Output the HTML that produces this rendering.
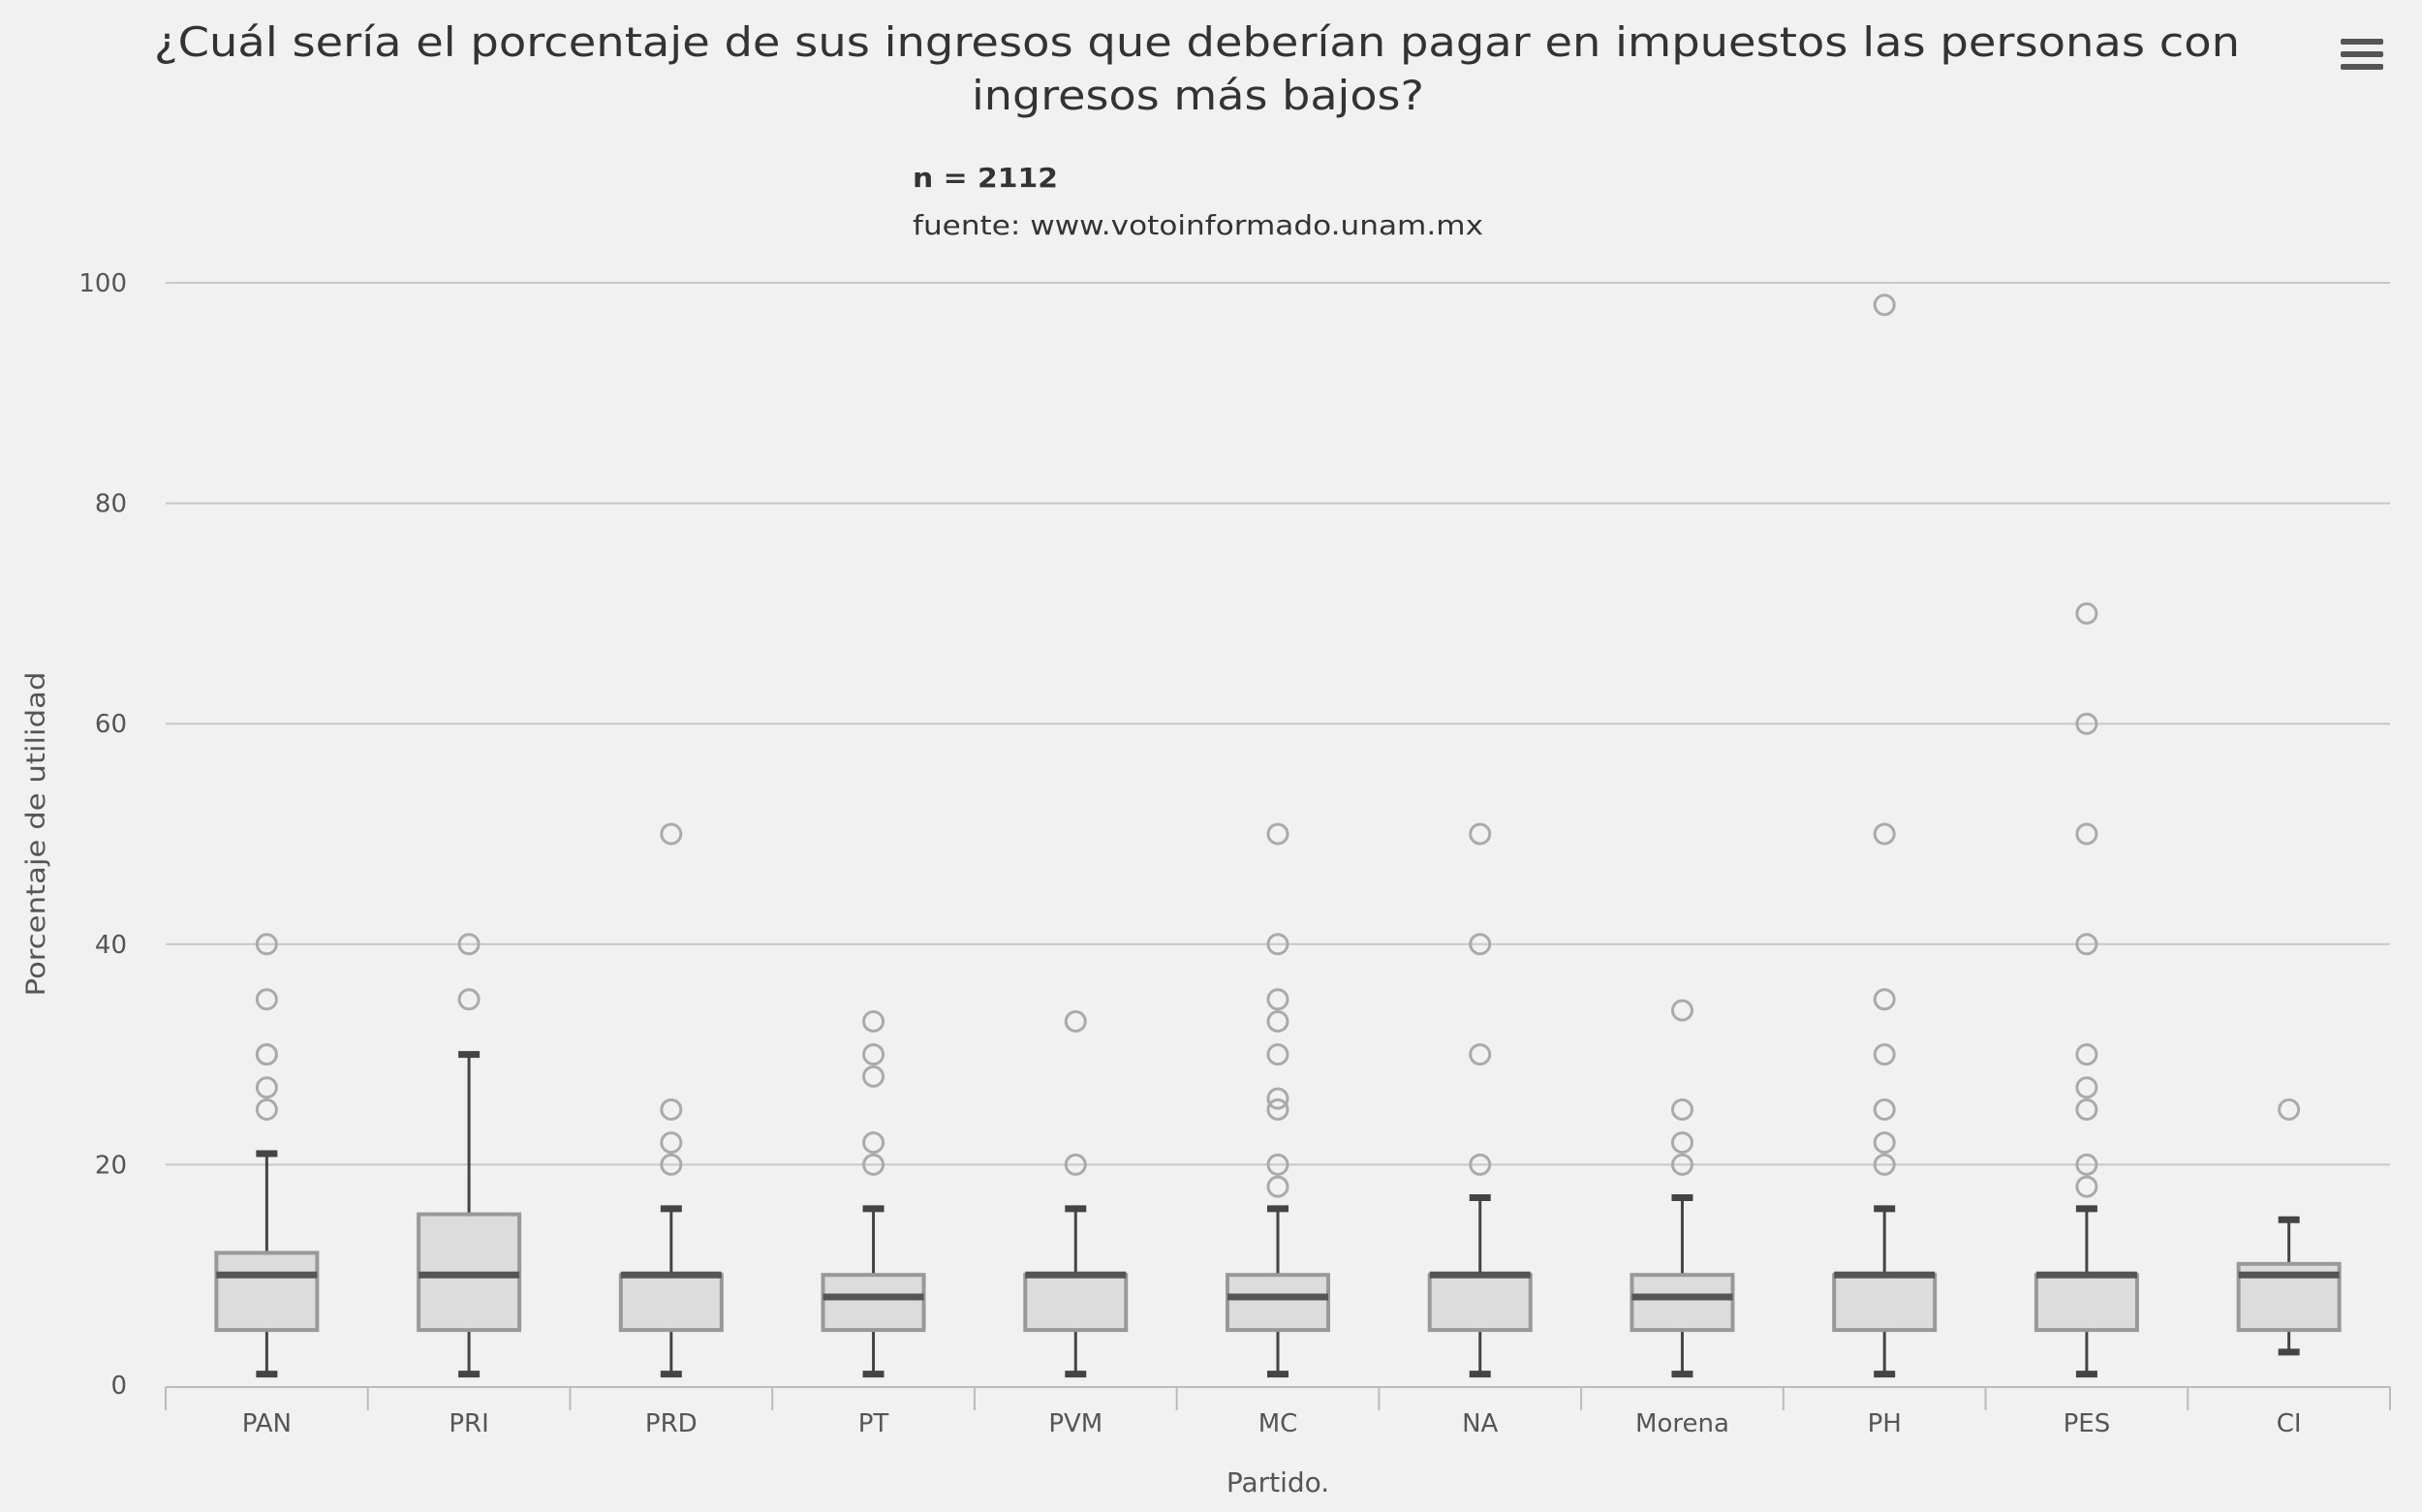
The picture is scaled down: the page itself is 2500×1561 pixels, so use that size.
<!DOCTYPE html>
<html><head><meta charset="utf-8"><style>
html,body{margin:0;padding:0;background:#f1f1f1;}
svg{display:block;font-family:"DejaVu Sans","Liberation Sans",sans-serif;}
</style></head><body>
<svg id="chart" width="2500" height="1561" viewBox="0 0 2500 1561">
<rect width="2500" height="1561" fill="#f1f1f1"/>
<text x="159" y="58" textLength="2153" lengthAdjust="spacingAndGlyphs" font-size="42" fill="#333">¿Cuál sería el porcentaje de sus ingresos que deberían pagar en impuestos las personas con</text>
<text x="1003" y="113" textLength="467" lengthAdjust="spacingAndGlyphs" font-size="42" fill="#333">ingresos más bajos?</text>
<text x="942" y="193" textLength="150" lengthAdjust="spacingAndGlyphs" font-size="28" font-weight="bold" fill="#333">n = 2112</text>
<text x="942" y="242" textLength="589" lengthAdjust="spacingAndGlyphs" font-size="28" fill="#333">fuente: www.votoinformado.unam.mx</text>
<g>
<rect x="2416" y="40" width="44" height="6" rx="2" fill="#555"/>
<rect x="2416" y="53" width="44" height="6" rx="2" fill="#555"/>
<rect x="2416" y="66" width="44" height="6" rx="2" fill="#555"/>
</g>
<g id="grid"></g>
<g id="marks"></g>
<text transform="translate(46,861) rotate(-90)" text-anchor="middle" textLength="335" lengthAdjust="spacingAndGlyphs" font-size="27" fill="#555">Porcentaje de utilidad</text>
<text x="1319" y="1540" text-anchor="middle" font-size="28" fill="#555">Partido.</text>
</svg>
<script>
const categories=["PAN","PRI","PRD","PT","PVM","MC","NA","Morena","PH","PES","CI"];
const lows=[1,1,1,1,1,1,1,1,1,1,3];
const q1s=[5,5,5,5,5,5,5,5,5,5,5];
const medians=[10,10,10,8,10,8,10,8,10,10,10];
const q3s=[12,15.5,10,10,10,10,10,10,10,10,11];
const highs=[21,30,16,16,16,16,17,17,16,16,15];
const outliers=[[40,35,30,30,27,25],[40,35],[50,25,22,20],[33,30,28,22,20],[33,20],[50,40,35,33,30,26,25,20,18],[50,40,30,20],[34,25,22,20],[98,50,35,30,25,22,20],[70,60,50,40,30,27,25,20,18],[25]];
const yTicks=[0,20,40,60,80,100];
const NS="http://www.w3.org/2000/svg";
const L=171,R=2467,T=292,B=1430;
const y=v=>B-(v/100)*(B-T);
const band=(R-L)/categories.length;
const x=i=>L+band*(i+0.5);
function mk(tag,attrs,parent){const e=document.createElementNS(NS,tag);for(const k in attrs)e.setAttribute(k,attrs[k]);parent.appendChild(e);return e;}
const grid=document.getElementById('grid'),marks=document.getElementById('marks');
yTicks.forEach(t=>{
 if(t>0){const l=mk('line',{x1:L,x2:R,y1:y(t),y2:y(t),stroke:'#c8c8c8','stroke-width':2},grid);
 
 }
 const tx=mk('text',{x:131,y:y(t)+9,'text-anchor':'end','font-size':26,fill:'#555'},grid);tx.textContent=t;
 
 
});
const ax=mk('line',{x1:L,x2:R,y1:B+2,y2:B+2,stroke:'#bbb','stroke-width':2},grid);


for(let i=0;i<=categories.length;i++){const tk=mk('line',{x1:L+band*i,x2:L+band*i,y1:B+2,y2:B+26,stroke:'#bbb','stroke-width':2},grid);
 
 }
categories.forEach((c,i)=>{
 const cx=x(i),bw=104,cw=22;
 const g=mk('g',{},marks);
 
 
 mk('line',{x1:cx,x2:cx,y1:y(highs[i]),y2:y(q3s[i]),stroke:'#444','stroke-width':3},g);
 mk('line',{x1:cx,x2:cx,y1:y(q1s[i]),y2:y(lows[i]),stroke:'#444','stroke-width':3},g);
 mk('line',{x1:cx-cw/2,x2:cx+cw/2,y1:y(highs[i]),y2:y(highs[i]),stroke:'#444','stroke-width':7},g);
 mk('line',{x1:cx-cw/2,x2:cx+cw/2,y1:y(lows[i]),y2:y(lows[i]),stroke:'#444','stroke-width':7},g);
 mk('rect',{x:cx-bw/2,y:y(q3s[i]),width:bw,height:y(q1s[i])-y(q3s[i]),fill:'#dcdcdc',stroke:'#999','stroke-width':4},g);
 mk('line',{x1:cx-bw/2,x2:cx+bw/2,y1:y(medians[i]),y2:y(medians[i]),stroke:'#555','stroke-width':7},g);
 outliers[i].forEach(v=>{const o=mk('circle',{cx:cx,cy:y(v),r:10,fill:'none',stroke:'#aaa','stroke-width':3},marks);
  
  });
 const lb=mk('text',{x:cx,y:1478,'text-anchor':'middle','font-size':26,fill:'#555'},grid);lb.textContent=c;
 
 
});
</script>
</body></html>
